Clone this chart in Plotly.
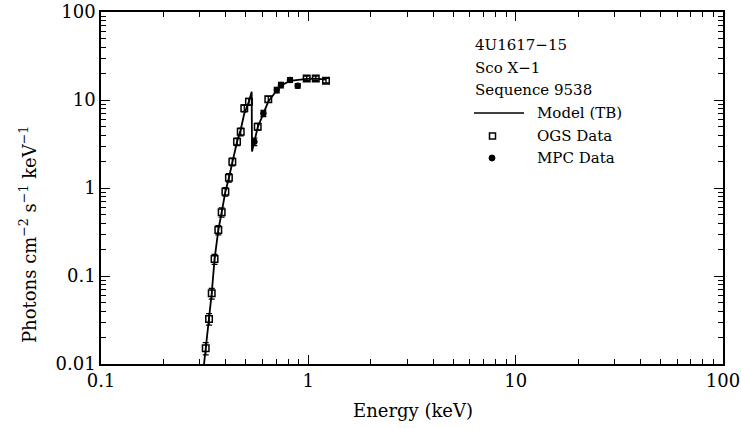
import plotly.graph_objects as go

# OGS data (open squares)
ogs_energy = [0.320, 0.332, 0.342, 0.353, 0.368, 0.382, 0.398, 0.414, 0.430, 0.453,
              0.472, 0.491, 0.517, 0.570, 0.641, 0.982, 1.086, 1.217]
ogs_flux = [0.0151, 0.0325, 0.0636, 0.156, 0.333, 0.53, 0.908, 1.31, 1.99, 3.36,
            4.36, 8.05, 9.57, 4.97, 10.2, 17.6, 17.6, 16.6]
ogs_err = [0.16, 0.15, 0.14, 0.13, 0.12, 0.12, 0.11, 0.11, 0.10, 0.10,
           0.10, 0.09, 0.09, 0.09, 0.08, 0.06, 0.06, 0.06]

# MPC data (filled circles)
mpc_energy = [0.549, 0.607, 0.704, 0.738, 0.816, 0.889]
mpc_flux = [3.36, 7.06, 13.0, 14.8, 16.9, 14.5]
mpc_err = [0.10, 0.08, 0.07, 0.07, 0.06, 0.06]

# Model (TB)
model_energy = [0.314, 0.320, 0.332, 0.342, 0.353, 0.368, 0.382, 0.398, 0.414, 0.430,
                0.453, 0.472, 0.491, 0.517, 0.533, 0.535, 0.549, 0.570, 0.607, 0.641,
                0.704, 0.738, 0.816, 0.889, 0.982, 1.086, 1.217]
model_flux = [0.0100, 0.0151, 0.0325, 0.0636, 0.156, 0.333, 0.53, 0.908, 1.31, 1.99,
              3.36, 4.6, 7.0, 9.6, 12.4, 2.6, 3.3, 4.9, 7.0, 9.6,
              12.8, 14.6, 16.5, 17.0, 17.4, 17.5, 17.0]

x_ticks = [0.1, 1, 10, 100]
x_ticktext = ["0.1", "1", "10", "100"]
y_ticks = [0.01, 0.1, 1, 10, 100]
y_ticktext = ["0.01", "0.1", "1", "10", "100"]

legend_header = ["4U1617−15", "Sco X−1", "Sequence 9538"]
legend_labels = ["Model (TB)", "OGS Data", "MPC Data"]
y_title = "Photons cm<sup>−2</sup> s<sup>−1</sup> keV<sup>−1</sup>"
x_title = "Energy (keV)"

FONT = "DejaVu Serif"

fig = go.Figure()
fig.add_trace(go.Scatter(x=model_energy, y=model_flux, mode="lines",
                         line=dict(color="black", width=1.8), showlegend=False))
fig.add_trace(go.Scatter(
    x=ogs_energy, y=ogs_flux, mode="markers",
    marker=dict(symbol="square-open", size=6.5, color="black", line=dict(width=1.5)),
    error_y=dict(type="data", array=[f * e for f, e in zip(ogs_flux, ogs_err)],
                 arrayminus=[f * e for f, e in zip(ogs_flux, ogs_err)],
                 color="black", thickness=1.3, width=3),
    showlegend=False))
fig.add_trace(go.Scatter(
    x=mpc_energy, y=mpc_flux, mode="markers",
    marker=dict(symbol="circle", size=6.5, color="black"),
    error_y=dict(type="data", array=[f * e for f, e in zip(mpc_flux, mpc_err)],
                 arrayminus=[f * e for f, e in zip(mpc_flux, mpc_err)],
                 color="black", thickness=1.3, width=3),
    showlegend=False))

L, R, T, B = 101, 19, 12, 64
W, H = 742, 428
pw, ph = W - L - R, H - T - B

def px(x):
    return (x - L) / pw

def py(y):
    return (H - B - y) / ph

annotations = []
rows_y = [45, 68, 90, 113, 136, 158]
for i, txt in enumerate(legend_header):
    annotations.append(dict(x=px(473), y=py(rows_y[i]), xref="paper", yref="paper",
                            text=txt, showarrow=False, xanchor="left", yanchor="middle",
                            font=dict(family=FONT, size=15, color="black")))
for i, txt in enumerate(legend_labels):
    annotations.append(dict(x=px(535), y=py(rows_y[3 + i]), xref="paper", yref="paper",
                            text=txt, showarrow=False, xanchor="left", yanchor="middle",
                            font=dict(family=FONT, size=15, color="black")))
annotations.append(dict(x=px(28), y=py(235), xref="paper", yref="paper",
                        text=y_title, textangle=-90, showarrow=False,
                        xanchor="center", yanchor="middle",
                        font=dict(family=FONT, size=18, color="black")))
annotations.append(dict(x=px(413), y=py(410), xref="paper", yref="paper",
                        text=x_title, showarrow=False,
                        xanchor="center", yanchor="middle",
                        font=dict(family=FONT, size=18, color="black")))

shapes = [
    dict(type="line", xref="paper", yref="paper", x0=px(474), x1=px(524),
         y0=py(113), y1=py(113), line=dict(color="black", width=1.5)),
    dict(type="rect", xref="paper", yref="paper", x0=px(489.5), x1=px(495.5),
         y0=py(133), y1=py(139), line=dict(color="black", width=1.5)),
    dict(type="circle", xref="paper", yref="paper", x0=px(489), x1=px(495),
         y0=py(155), y1=py(161), fillcolor="black", line=dict(color="black", width=1)),
]

axis_common = dict(type="log", showline=True, linecolor="black", linewidth=1.5,
                   mirror="ticks", ticks="inside", ticklen=9, tickwidth=1.3,
                   tickcolor="black", showgrid=False, zeroline=False, automargin=False,
                   minor=dict(ticks="inside", ticklen=5, tickwidth=1.1,
                              tickcolor="black", dtick="D1", showgrid=False),
                   tickfont=dict(family=FONT, size=18, color="black"))

fig.update_layout(
    width=W, height=H,
    margin=dict(l=L, r=R, t=T, b=B),
    paper_bgcolor="white", plot_bgcolor="white",
    xaxis=dict(range=[-1, 2], tickvals=x_ticks, ticktext=x_ticktext, **axis_common),
    yaxis=dict(range=[-2, 2], tickvals=y_ticks, ticktext=y_ticktext, **axis_common),
    annotations=annotations, shapes=shapes,
)

fig.write_html("out.html")
